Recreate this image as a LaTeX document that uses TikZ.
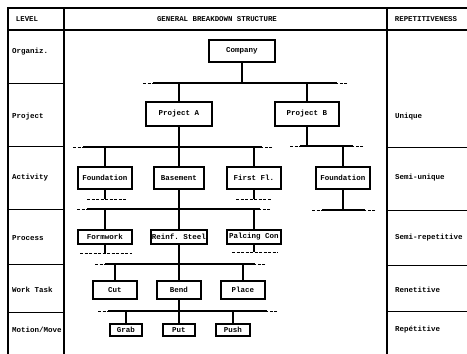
\documentclass[tikz,border=0pt]{standalone}
\usepackage{fontspec}
\setmonofont{Liberation Mono}
\usepackage{tikz}
\usetikzlibrary{calc}

\tikzset{
  unit/.style={draw, line width=2pt, inner sep=0pt, font=\ttfamily\bfseries\fontsize{7.5}{9}\selectfont},
  head/.style={inner sep=0pt, font=\ttfamily\bfseries\fontsize{7.4}{8}\selectfont},
  lbl/.style={anchor=west, inner sep=0pt, font=\ttfamily\bfseries\fontsize{7.5}{9}\selectfont},
  link/.style={line width=1.3pt},
  stub/.style={line width=1pt, dash pattern=on 3pt off 1.5pt},
  frame/.style={line width=2pt},
  rowline/.style={line width=1pt}
}

% tree bar with dashed ends
\newcommand{\treebar}[2]{%
  \draw[stub] (#1) -- ++(10,0);
  \draw[stub] (#2) -- ++(-10,0);
  \draw[link] ($(#1)+(10,0)$) -- ($(#2)+(-10,0)$);}

\begin{document}
\begin{tikzpicture}[x=1pt,y=-1pt]
\useasboundingbox (0,0) rectangle (467,354);

% table frame
\draw[frame] (8,354) -- (8,8) -- (467,8);
\draw[frame] (8,30) -- (467,30);
\draw[frame] (64,8) -- (64,354);
\draw[frame] (387,8) -- (387,354);
\foreach \y in {83,146,209,264,312}
  \draw[rowline] (8,\y) -- (64,\y);
\foreach \y in {147,210,265,311}
  \draw[rowline] (387,\y) -- (467,\y);

% headers
\node[head] (level) at (27,19) {LEVEL};
\node[head] (gbs) at (217,19) {GENERAL BREAKDOWN STRUCTURE};
\node[head] (rep) at (426,19) {REPETITIVENESS};

% levels
\node[lbl] (organiz) at (12,52) {Organiz.};
\node[lbl] (project) at (12,117) {Project};
\node[lbl] (activity) at (12,178) {Activity};
\node[lbl] (process) at (12,238) {Process};
\node[lbl] (worktask) at (12,290) {Work Task};
\node[lbl] (motion) at (12,330) {Motion/Move};

% repetitiveness
\node[lbl] (unique) at (395,117) {Unique};
\node[lbl] (semiuni) at (395,178) {Semi-unique};
\node[lbl] (semirep) at (395,238) {Semi-repetitive};
\node[lbl] (renet) at (395,290) {Renetitive};
\node[lbl] (repet) at (395,330) {Repétitive};

% boxes
\node[unit, minimum width=66pt, minimum height=22pt] (company) at (242,51) {Company};
\node[unit, minimum width=66pt, minimum height=24pt] (projA) at (179,114) {Project A};
\node[unit, minimum width=64pt, minimum height=24pt] (projB) at (307,114) {Project B};

\node[unit, minimum width=54pt, minimum height=22pt] (foundA) at (105,178) {Foundation};
\node[unit, minimum width=50pt, minimum height=22pt] (basement) at (179,178) {Basement};
\node[unit, minimum width=54pt, minimum height=22pt] (firstfl) at (254,178) {First Fl.};
\node[unit, minimum width=54pt, minimum height=22pt] (foundB) at (343,178) {Foundation};

\node[unit, minimum width=54pt, minimum height=14pt] (formwork) at (105,237) {Formwork};
\node[unit, minimum width=56pt, minimum height=14pt] (reinf) at (179,237) {Reinf. Steel};
\node[unit, minimum width=54pt, minimum height=14pt] (palcing) at (254,237) {Palcing Con};

\node[unit, minimum width=44pt, minimum height=18pt] (cut) at (115,290) {Cut};
\node[unit, minimum width=44pt, minimum height=18pt] (bend) at (179,290) {Bend};
\node[unit, minimum width=44pt, minimum height=18pt] (place) at (243,290) {Place};

\node[unit, minimum width=32pt, minimum height=12pt] (grab) at (126,330) {Grab};
\node[unit, minimum width=32pt, minimum height=12pt] (put) at (179,330) {Put};
\node[unit, minimum width=34pt, minimum height=12pt] (push) at (233,330) {Push};

% bars
\coordinate (b1w) at (143,83);  \coordinate (b1e) at (347,83);
\coordinate (b2w) at (73,147);  \coordinate (b2e) at (272,147);
\coordinate (b3w) at (290,146); \coordinate (b3e) at (363,146);
\coordinate (b4w) at (77,209);  \coordinate (b4e) at (270,209);
\coordinate (b5w) at (312,210); \coordinate (b5e) at (375,210);
\coordinate (b6w) at (95,264);  \coordinate (b6e) at (265,264);
\coordinate (b7w) at (98,311);  \coordinate (b7e) at (277,311);
\treebar{b1w}{b1e}
\treebar{b2w}{b2e}
\treebar{b3w}{b3e}
\treebar{b4w}{b4e}
\treebar{b5w}{b5e}
\treebar{b6w}{b6e}
\treebar{b7w}{b7e}

% dashed stubs
\coordinate (s1w) at (87,199);  \coordinate (s1e) at (127,199);
\coordinate (s2w) at (236,199); \coordinate (s2e) at (271,199);
\coordinate (s3w) at (80,253);  \coordinate (s3e) at (132,253);
\coordinate (s4w) at (232,252); \coordinate (s4e) at (278,252);
\draw[stub] (s1w) -- (s1e);
\draw[stub] (s2w) -- (s2e);
\draw[stub] (s3w) -- (s3e);
\draw[stub] (s4w) -- (s4e);

% connectors
\draw[link] (company.south) -- (company.south |- b1w);
\draw[link] (projA.north) -- (projA.north |- b1w);
\draw[link] (projB.north) -- (projB.north |- b1w);
\draw[link] (projA.south) -- (projA.south |- b2w);
\draw[link] (projB.south) -- (projB.south |- b3w);
\draw[link] (foundA.north) -- (foundA.north |- b2w);
\draw[link] (basement.north) -- (basement.north |- b2w);
\draw[link] (firstfl.north) -- (firstfl.north |- b2w);
\draw[link] (foundB.north) -- (foundB.north |- b3w);
\draw[link] (foundA.south) -- (foundA.south |- s1w);
\draw[link] (firstfl.south) -- (firstfl.south |- s2w);
\draw[link] (basement.south) -- (basement.south |- b4w);
\draw[link] (foundB.south) -- (foundB.south |- b5w);
\draw[link] (formwork.north) -- (formwork.north |- b4w);
\draw[link] (reinf.north) -- (reinf.north |- b4w);
\draw[link] (palcing.north) -- (palcing.north |- b4w);
\draw[link] (formwork.south) -- (formwork.south |- s3w);
\draw[link] (palcing.south) -- (palcing.south |- s4w);
\draw[link] (reinf.south) -- (reinf.south |- b6w);
\draw[link] (cut.north) -- (cut.north |- b6w);
\draw[link] (bend.north) -- (bend.north |- b6w);
\draw[link] (place.north) -- (place.north |- b6w);
\draw[link] (bend.south) -- (bend.south |- b7w);
\draw[link] (grab.north) -- (grab.north |- b7w);
\draw[link] (put.north) -- (put.north |- b7w);
\draw[link] (push.north) -- (push.north |- b7w);
\end{tikzpicture}
\end{document}
